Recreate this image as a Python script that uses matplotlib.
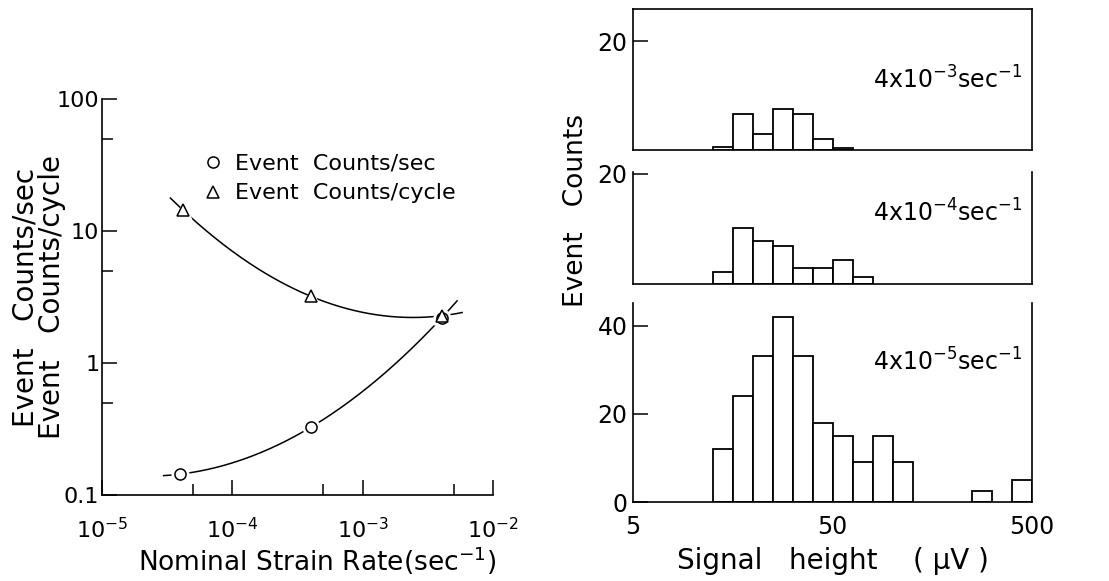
import numpy as np
import matplotlib
matplotlib.use("Agg")
import matplotlib.pyplot as plt
from matplotlib.ticker import FixedLocator, NullFormatter

plt.rcParams['font.family'] = ['DejaVu Sans']

# ---------------- data: left panel ----------------
strain_rate_sec = [4.0e-5, 4.0e-4, 4.06e-3]
counts_per_sec = [0.144, 0.326, 2.21]
strain_rate_cyc = [4.18e-5, 4.0e-4, 4.06e-3]
counts_per_cycle = [14.4, 3.2, 2.28]
curve_range_sec = [2.97e-5, 5.3e-3]
curve_range_cyc = [3.35e-5, 5.8e-3]

# ---------------- data: right panels ----------------
bin_edges = [12.6, 15.8, 20.0, 25.1, 31.6, 39.8, 50.1, 63.1, 79.4, 100.0,
             125.9, 158.5, 199.5, 251.2, 316.2, 398.1, 501.2]
counts_4e3 = [0.6, 6.7, 2.9, 7.5, 6.7, 2.0, 0.4, 0, 0, 0, 0, 0, 0, 0, 0, 0]
counts_4e4 = [2.2, 10.1, 7.8, 6.8, 2.9, 2.9, 4.4, 1.2, 0, 0, 0, 0, 0, 0, 0, 0]
counts_4e5 = [12, 24, 33, 42, 33, 18, 15, 9, 15, 9, 0, 0, 0, 2.5, 0, 5]
panel_labels = [r"4x10$^{-3}$sec$^{-1}$", r"4x10$^{-4}$sec$^{-1}$", r"4x10$^{-5}$sec$^{-1}$"]

W, H = 1109, 581
fig = plt.figure(figsize=(W / 100, H / 100), dpi=100)

def axes_px(x0, x1, y0, y1):
    return fig.add_axes([x0 / W, (H - y1) / H, (x1 - x0) / W, (y1 - y0) / H])

# ================= left panel =================
ax = axes_px(102, 493, 99, 495)
ax.set_xscale('log')
ax.set_yscale('log')
ax.set_xlim(1e-5, 1e-2)
ax.set_ylim(0.1, 100)
for s in ['top', 'right']:
    ax.spines[s].set_visible(False)
for s in ['left', 'bottom']:
    ax.spines[s].set_linewidth(1.2)

def draw_curve(xs, ys, xr):
    lx, ly = np.log10(xs), np.log10(ys)
    c = np.polyfit(lx, ly, 2)
    gx = np.linspace(np.log10(xr[0]), np.log10(xr[1]), 200)
    ax.plot(10 ** gx, 10 ** np.polyval(c, gx), color='black', lw=1.1, zorder=2)

draw_curve(strain_rate_sec, counts_per_sec, curve_range_sec)
draw_curve(strain_rate_cyc, counts_per_cycle, curve_range_cyc)
# white halos to break line around markers
ax.plot(strain_rate_sec, counts_per_sec, 'o', ms=13, mfc='white', mec='none', zorder=3)
ax.plot(strain_rate_cyc, counts_per_cycle, '^', ms=13, mfc='white', mec='none', zorder=3)
h1, = ax.plot(strain_rate_sec, counts_per_sec, 'o', ms=8, mfc='white', mec='black', mew=1.1,
              ls='none', zorder=4, label='Event  Counts/sec')
h2, = ax.plot(strain_rate_cyc, counts_per_cycle, '^', ms=8, mfc='white', mec='black', mew=1.1,
              ls='none', zorder=4, label='Event  Counts/cycle')
ax.legend(handles=[h1, h2], loc='upper left', bbox_to_anchor=(0.232, 0.885), frameon=False,
          fontsize=16, handlelength=1.0, handletextpad=0.5, labelspacing=0.45, borderaxespad=0)

ax.xaxis.set_major_locator(FixedLocator([1e-5, 1e-4, 1e-3, 1e-2]))
ax.xaxis.set_minor_locator(FixedLocator([5e-5, 5e-4, 5e-3]))
ax.set_xticklabels([r"$10^{-5}$", r"$10^{-4}$", r"$10^{-3}$", r"$10^{-2}$"])
ax.xaxis.set_minor_formatter(NullFormatter())
ax.yaxis.set_major_locator(FixedLocator([0.1, 1, 10, 100]))
ax.yaxis.set_minor_locator(FixedLocator([0.5, 5, 50]))
ax.set_yticklabels(["0.1", "1", "10", "100"])
ax.yaxis.set_minor_formatter(NullFormatter())
ax.tick_params(which='major', direction='in', length=11, width=1.1, labelsize=16, pad=4)
ax.tick_params(which='minor', direction='in', length=8, width=1.1)
ax.tick_params(axis='y', which='both', pad=2)
ax.tick_params(axis='x', which='major', pad=16)
ax.set_xlabel(r"Nominal Strain Rate(sec$^{-1}$)", fontsize=19)
ax.xaxis.set_label_coords(0.55, -0.125)
ax.set_ylabel("Event   Counts/sec\nEvent   Counts/cycle", fontsize=20, linespacing=0.9)
ax.yaxis.set_label_coords(-0.093, 0.5)

# ================= right panels =================
bin_edges_arr = np.array(bin_edges)
lefts = bin_edges_arr[:-1]
widths = np.diff(bin_edges_arr)

specs = [
    (counts_4e3, (9, 150), 25.9, [20], True, 80),
    (counts_4e4, (172, 284), 20.3, [20], False, 213),
    (counts_4e5, (303, 502), 45.1, [0, 20, 40], False, 362),
]
axes_r = []
for counts, (yt, yb), ytop, yt_ticks, topspine, label_y in specs:
    a = axes_px(633, 1032, yt, yb)
    a.set_xscale('log')
    a.set_xlim(5, 500)
    a.set_ylim(0, ytop)
    cnt = np.array(counts, dtype=float)
    m = cnt > 0
    a.bar(lefts[m], cnt[m], width=widths[m], align='edge', facecolor='white',
          edgecolor='black', linewidth=1.3, zorder=2)
    for s in ['left', 'right', 'bottom', 'top']:
        a.spines[s].set_linewidth(1.2)
    a.spines['top'].set_visible(topspine)
    a.set_yticks(yt_ticks)
    a.set_yticklabels([str(v) for v in yt_ticks])
    a.yaxis.set_minor_locator(FixedLocator([]))
    a.tick_params(axis='y', direction='in', length=11, width=1.1, labelsize=17, pad=4)
    a.tick_params(axis='x', which='both', length=0)
    a.text(0.975, (yb - label_y) / (yb - yt), panel_labels[len(axes_r)], transform=a.transAxes,
           ha='right', va='center', fontsize=17)
    axes_r.append(a)

for a in axes_r[:2]:
    a.set_xticks([])
    a.xaxis.set_minor_locator(FixedLocator([]))
ab = axes_r[2]
ab.xaxis.set_major_locator(FixedLocator([5, 50, 500]))
ab.xaxis.set_minor_locator(FixedLocator([]))
ab.set_xticklabels(["5", "50", "500"])
ab.tick_params(axis='x', labelsize=17, pad=9)
ab.set_xlabel("Signal   height    ( μV )", fontsize=20, labelpad=6)

fig.text(576 / W, 1 - 210 / H, "Event   Counts", rotation=90, ha='center', va='center', fontsize=19)

fig.savefig("out.png", dpi=100, facecolor='white')
